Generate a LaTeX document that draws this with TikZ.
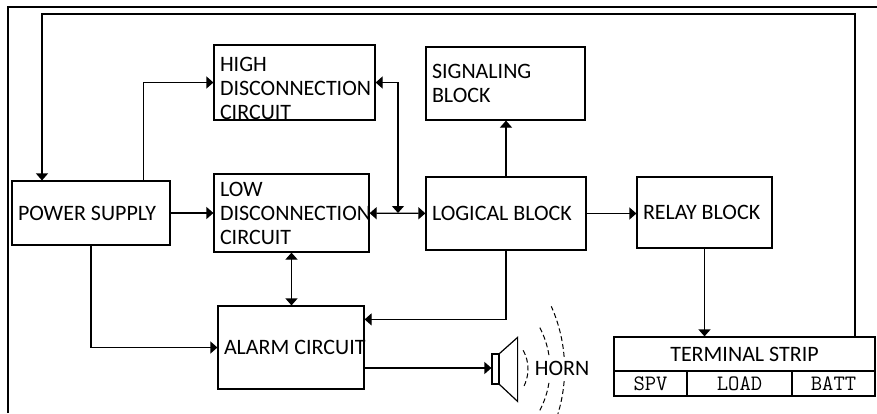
\documentclass[tikz,border=0pt]{standalone}
\usepackage{fontspec}
\setsansfont{Carlito}
\usetikzlibrary{positioning,calc,arrows.meta}

\begin{document}
\begin{tikzpicture}[x=1pt, y=-1pt, line width=1.2pt, >={Triangle[length=7pt,width=12pt]}]
	\useasboundingbox (0,0) rectangle (877,413);
	\begin{scope}
		\tikzstyle{blk}=[draw, rectangle, align=left, inner xsep=6pt, inner ysep=0pt, font=\sffamily\fontsize{22}{24}\selectfont,
			execute at begin node={\spaceskip=0pt\xspaceskip=0pt\hyphenpenalty=10000\relax}]
		\tikzstyle{cell}=[draw, rectangle, align=center, inner sep=0pt, minimum height=25pt, font=\ttfamily\fontsize{22}{24}\selectfont]
		\tikzstyle{wave}=[line width=1pt, dash pattern=on 5pt off 3pt]

		% outer frame
		\draw [line width=1.6pt] (8,413) -- (8,7) -- (877,7);

		\node[blk, minimum width=158pt, minimum height=64pt, text width=146pt] (ps) at (91,213) {POWER SUPPLY};
		\node[blk, minimum width=161pt, minimum height=75pt, text width=149pt] (high) at (294.5,82.5) {\rule{0pt}{26pt}HIGH\\DISCONNECTION\\CIRCUIT};
		\node[blk, minimum width=155pt, minimum height=78pt, text width=143pt] (low) at (291.5,213) {LOW\\DISCONNECTION\\CIRCUIT};
		\node[blk, minimum width=146pt, minimum height=83pt, text width=134pt] (alarm) at (291,347.5) {\mbox{ALARM CIRCUIT}};

		\node[blk, minimum width=159pt, minimum height=73pt, text width=147pt] (sig) at (505.5,83.5) {SIGNALING\\BLOCK};
		\node[blk, minimum width=160pt, minimum height=73pt, text width=148pt] (logic) at (506,213.5) {LOGICAL BLOCK};
		\node[blk, minimum width=135pt, minimum height=71pt, text width=123pt] (relay) at (704.5,212.5) {RELAY BLOCK};

		% terminal strip
		\node[cell, minimum width=261pt, minimum height=34pt, font=\sffamily\fontsize{22}{24}\selectfont] (ts) at (744.5,354) {TERMINAL STRIP};
		\node[cell, minimum width=73pt] (spv) at (650.5,383.5) {SPV};
		\node[cell, minimum width=105pt] (load) at (739.5,383.5) {LOAD};
		\node[cell, minimum width=83pt] (batt) at (833.5,383.5) {BATT};

		% horn
		\node[draw, minimum width=7pt, minimum height=30pt, inner sep=0pt] (spk) at (495.5,369) {};
		\draw [] (spk.north east) -- ++(18,-16) -- ++(0,64) -- (spk.south east);
		\draw [wave] (489.4,369) ++(-29:38.6) arc[start angle=-29, end angle=29, radius=38.6];
		\foreach \s in {1,-1} {
			\draw [wave] (461,369) ++(9*\s:89) arc[start angle=9*\s, end angle=28*\s, radius=89];
			\draw [wave] (410.6,369) ++(4.5*\s:154) arc[start angle=4.5*\s, end angle=24*\s, radius=154];
		}
		\node[font=\sffamily\fontsize{22}{24}\selectfont, inner sep=0pt] (horn) at (562,368) {HORN};

		\coordinate (fbr) at (855,14);
		\coordinate (fbl) at (42,14);
		\coordinate (jn) at (398,213);

		\draw [->] (ts.north -| fbr) -- (fbr) -- (fbl) -- (ps.north -| fbl);
		\draw [->] ([xshift=-27pt]ps.north east) |- (high);
		\draw [->] (ps) -- (low);
		\draw [->] (ps) |- (alarm);
		\draw [<->] (low) -- (logic);
		\draw [<->] (high) -| (jn);
		\draw [<->] (low.south) -- (low.south |- alarm.north);
		\draw [->] (logic.north) -- (logic.north |- sig.south);
		\draw [->] (logic) |- ([yshift=-14pt]alarm.north east);
		\draw [->] (logic.east) -- (logic.east -| relay.west);
		\draw [->] (relay.south) -- (relay.south |- ts.north);
		\draw [->] ([yshift=-20.5pt]alarm.east) -- ([yshift=-20.5pt]alarm.east -| spk.west);
	\end{scope}
\end{tikzpicture}
\end{document}
